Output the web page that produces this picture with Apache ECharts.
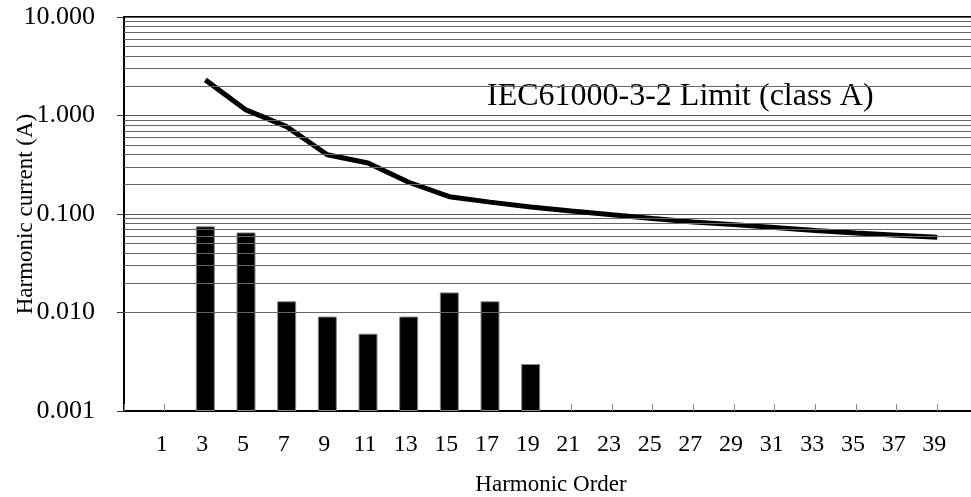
<!DOCTYPE html>
<html>
<head>
<meta charset="utf-8">
<script src="https://cdn.jsdelivr.net/npm/echarts@6/dist/echarts.min.js"></script>
<style>
  html, body { margin: 0; padding: 0; background: #fff; }
  #chart { width: 971px; height: 497px; }
</style>
</head>
<body>
<div id="chart"></div>
<script>
// harmonic orders shown on the x axis
const orders = [1, 3, 5, 7, 9, 11, 13, 15, 17, 19, 21, 23, 25, 27, 29, 31, 33, 35, 37, 39]
// measured harmonic current (A), '-' = nothing drawn
const measured = ['-', 0.075, 0.065, 0.013, 0.0091, 0.0061, 0.0091, 0.016, 0.013, 0.003,
  '-', '-', '-', '-', '-', '-', '-', '-', '-', '-']
// IEC61000-3-2 class A limits (A)
const limitA = ['-', 2.30, 1.14, 0.77, 0.40, 0.33, 0.21, 0.15, 0.132, 0.118,
  0.107, 0.098, 0.090, 0.083, 0.078, 0.073, 0.068, 0.064, 0.061, 0.058]
// minor log gridlines (2..9 in every decade)
const minorGrid = [0.002, 0.003, 0.004, 0.005, 0.006, 0.007, 0.008, 0.009,
  0.02, 0.03, 0.04, 0.05, 0.06, 0.07, 0.08, 0.09,
  0.2, 0.3, 0.4, 0.5, 0.6, 0.7, 0.8, 0.9,
  2, 3, 4, 5, 6, 7, 8, 9]

// empty slot on both ends so "1" sits one step from the y axis
const categories = [''].concat(orders.map(String), [''])
const pad = arr => ['-'].concat(arr, ['-'])

const font = 'Liberation Serif, Times New Roman, serif'
const chart = echarts.init(document.getElementById('chart'), null, { renderer: 'canvas' })

const option = {
  animation: false,
  grid: {
    left: 124,
    top: 17,
    bottom: 86,
    width: 854,
    containLabel: false,
    outerBoundsMode: 'none',
    show: true,
    borderColor: '#000',
    borderWidth: 2,
    backgroundColor: 'transparent'
  },
  xAxis: {
    type: 'category',
    data: categories,
    boundaryGap: false,
    name: 'Harmonic Order',
    nameLocation: 'middle',
    nameGap: 62,
    nameMoveOverlap: false,
    nameTextStyle: { fontFamily: font, fontSize: 23, color: '#000' },
    axisLine: { lineStyle: { color: '#000', width: 2 } },
    axisTick: { inside: true, length: 7, interval: 0, lineStyle: { color: '#888', width: 1 } },
    axisLabel: {
      interval: 0,
      fontFamily: font,
      fontSize: 24,
      color: '#000',
      margin: 22,
      padding: [0, 6, 0, 0]
    },
    splitLine: { show: false }
  },
  yAxis: {
    type: 'log',
    logBase: 10,
    min: 0.001,
    max: 10,
    startValue: 0.001,
    splitNumber: 4,
    name: 'Harmonic current (A)',
    nameLocation: 'middle',
    nameGap: 87,
    nameMoveOverlap: false,
    nameTextStyle: { fontFamily: font, fontSize: 23, color: '#000' },
    axisLine: { show: true, lineStyle: { color: '#000', width: 2 } },
    axisTick: { show: true, length: 7, lineStyle: { color: '#333', width: 1 } },
    axisLabel: {
      fontFamily: font,
      fontSize: 26,
      color: '#000',
      margin: 29,
      formatter: v => Number(v).toFixed(3)
    },
    splitLine: { show: true, lineStyle: { color: '#555', width: 1 } }
  },
  series: [
    {
      // carrier for the minor gridlines
      type: 'line',
      data: categories.map(() => '-'),
      z: 1,
      silent: true,
      markLine: {
        silent: true,
        symbol: 'none',
        animation: false,
        label: { show: false },
        lineStyle: { color: '#666', width: 1, type: 'solid' },
        data: minorGrid.map(v => ({ yAxis: v }))
      }
    },
    {
      name: 'Measured',
      type: 'bar',
      data: pad(measured),
      barWidth: 19,
      z: 3,
      itemStyle: { color: '#000', borderColor: '#888', borderWidth: 1 }
    },
    {
      name: 'IEC61000-3-2 Limit (class A)',
      type: 'line',
      data: pad(limitA),
      z: 4,
      symbol: 'none',
      smooth: false,
      connectNulls: false,
      lineStyle: { color: '#000', width: 5 }
    }
  ],
  graphic: [
    {
      type: 'text',
      left: 487,
      top: 81,
      style: {
        text: 'IEC61000-3-2 Limit (class A)',
        font: '32px ' + font,
        fill: '#000'
      }
    }
  ]
}

chart.setOption(option)
</script>
</body>
</html>
